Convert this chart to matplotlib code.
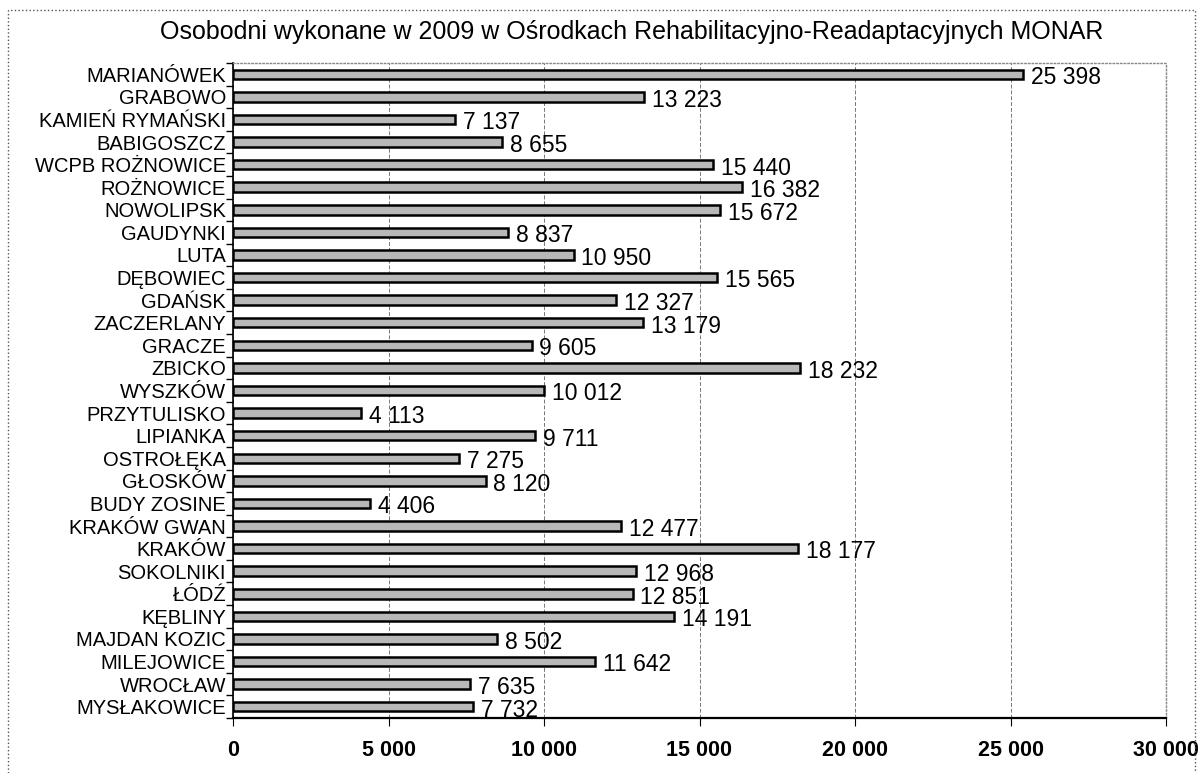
import numpy as np
import matplotlib.pyplot as plt
from matplotlib.patches import Rectangle
from matplotlib.ticker import FixedLocator

plt.rcParams['font.family'] = ['Liberation Sans', 'DejaVu Sans']

osrodki = ['MARIANÓWEK', 'GRABOWO', 'KAMIEŃ RYMAŃSKI', 'BABIGOSZCZ', 'WCPB ROŻNOWICE',
           'ROŻNOWICE', 'NOWOLIPSK', 'GAUDYNKI', 'LUTA', 'DĘBOWIEC', 'GDAŃSK',
           'ZACZERLANY', 'GRACZE', 'ZBICKO', 'WYSZKÓW', 'PRZYTULISKO', 'LIPIANKA',
           'OSTROŁĘKA', 'GŁOSKÓW', 'BUDY ZOSINE', 'KRAKÓW GWAN', 'KRAKÓW', 'SOKOLNIKI',
           'ŁÓDŹ', 'KĘBLINY', 'MAJDAN KOZIC', 'MILEJOWICE', 'WROCŁAW', 'MYSŁAKOWICE']
osobodni = [25398, 13223, 7137, 8655, 15440, 16382, 15672, 8837, 10950, 15565, 12327,
            13179, 9605, 18232, 10012, 4113, 9711, 7275, 8120, 4406, 12477, 18177, 12968,
            12851, 14191, 8502, 11642, 7635, 7732]
x_ticks = [0, 5000, 10000, 15000, 20000, 25000, 30000]


def fmt(v):
    return '{:,}'.format(v).replace(',', ' ')


fig = plt.figure(figsize=(12.03, 7.73), dpi=100)
ax = fig.add_axes([233 / 1203, 1 - 718 / 773, (1166 - 233) / 1203, (718 - 63) / 773])

y = np.arange(len(osrodki))
ax.barh(y, osobodni, height=0.42, color='#b8b8b8', edgecolor='black', linewidth=1.8, zorder=3)
for yi, v in zip(y, osobodni):
    ax.text(v + 250, yi + 0.15, fmt(v), va='center', ha='left', fontsize=16.5, zorder=4)

ax.set_ylim(len(osrodki) - 0.5, -0.5)
ax.set_xlim(0, 30000)
ax.set_yticks(y)
ax.set_yticklabels(osrodki, fontsize=14.5)
ax.yaxis.set_minor_locator(FixedLocator(np.arange(len(osrodki) + 1) - 0.5))
ax.tick_params(axis='y', which='major', length=0, pad=5)
ax.tick_params(axis='y', which='minor', length=5, width=1, direction='out')

ax.set_xticks(x_ticks)
ax.set_xticklabels([fmt(t) for t in x_ticks], fontsize=15.5, fontweight='bold')
ax.tick_params(axis='x', length=6, width=0.8, direction='out', pad=10)
ax.grid(axis='x', color='#777777', linestyle=(0, (4, 2)), linewidth=0.7, zorder=0)

ax.spines['left'].set_linewidth(1.2)
ax.spines['bottom'].set_linewidth(1.6)
for s in ['top', 'right']:
    ax.spines[s].set_color('#888888')
    ax.spines[s].set_linestyle(':')
    ax.spines[s].set_linewidth(1)

fig.text(632 / 1203, 1 - 32 / 773, 'Osobodni wykonane w 2009 w Ośrodkach Rehabilitacyjno-Readaptacyjnych MONAR',
         ha='center', va='center', fontsize=18)

fig.patches.append(Rectangle((8 / 1203, -0.01), (1195 - 8) / 1203, 1 - 10 / 773 + 0.01,
                             transform=fig.transFigure, fill=False, edgecolor='#555555',
                             linewidth=1, linestyle=':'))

plt.savefig('out.png', dpi=100)
